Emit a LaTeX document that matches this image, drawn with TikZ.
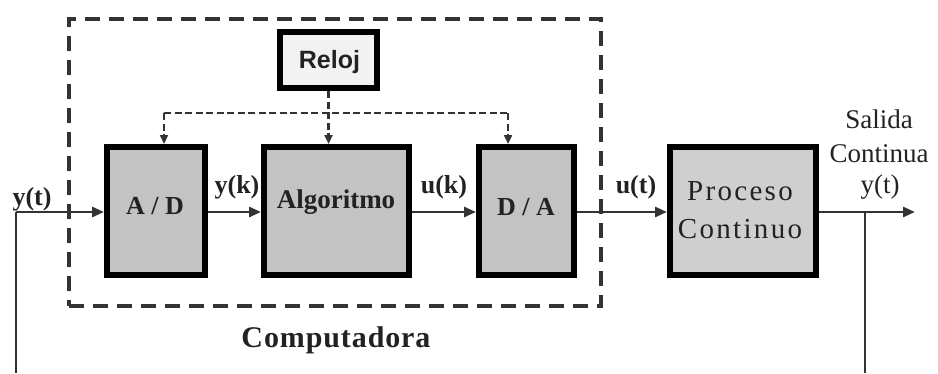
\documentclass[tikz,border=0pt]{standalone}
\usepackage{fontspec}
\setmainfont{Liberation Serif}
\newfontfamily\arialfont{Liberation Sans}
\usetikzlibrary{arrows.meta}
\definecolor{linegray}{HTML}{333333}
\definecolor{boxgray}{HTML}{C3C3C3}
\definecolor{procgray}{HTML}{CFCFCF}
\definecolor{clockfill}{HTML}{F2F2F2}
\definecolor{txt}{HTML}{222222}
\begin{document}
\begin{tikzpicture}[x=1pt,y=-1pt,
  blk/.style={draw=black, line width=6pt, fill=boxgray, inner sep=0pt},
  txtnode/.style={inner sep=0pt, anchor=base, text=txt},
  sig/.style={draw=linegray, line width=2.8pt, -{Triangle[length=12pt,width=10pt]}},
  clk/.style={draw=linegray, line width=2.5pt, dash pattern=on 7pt off 3.5pt},
  clkarrow/.style={clk, -{Triangle[length=9pt,width=8pt]}},
  thinline/.style={draw=linegray, line width=1.6pt}]
\useasboundingbox (0,0) rectangle (938,373);

% computer dashed frame
\node[draw=linegray, line width=4pt, dash pattern=on 15pt off 9pt,
      minimum width=532pt, minimum height=287pt, inner sep=0pt] (comp) at (335,162.5) {};

% blocks
\node[blk, minimum width=98pt, minimum height=128pt] (ad) at (156,211) {};
\node[blk, minimum width=145pt, minimum height=128pt] (algo) at (336.5,211) {};
\node[blk, minimum width=95pt, minimum height=128pt] (da) at (526.5,211) {};
\node[blk, fill=procgray, minimum width=146pt, minimum height=128pt] (pc) at (743,211) {};
\node[blk, fill=clockfill, minimum width=97pt, minimum height=56pt] (reloj) at (328.5,60) {};

% block texts
\node[txtnode] (adt) at (155,214) {\fontsize{26}{30}\selectfont\bfseries A / D};
\node[txtnode] (algot) at (336,208) {\fontsize{27}{30}\selectfont\bfseries Algoritmo};
\node[txtnode] (dat) at (526,215) {\fontsize{26}{30}\selectfont\bfseries D / A};
\node[txtnode] (pct1) at (740,200) {\fontsize{29}{32}\selectfont\addfontfeature{LetterSpace=8}Proceso};
\node[txtnode] (pct2) at (740,238) {\fontsize{29}{32}\selectfont\addfontfeature{LetterSpace=8}Continuo};
\node[txtnode] (relojt) at (329.5,68) {\arialfont\fontsize{25}{30}\selectfont\bfseries Reloj};
\node[txtnode] (compt) at (336,347) {\fontsize{30}{34}\selectfont\bfseries\addfontfeature{LetterSpace=3}Computadora};

% signal labels
\node[txtnode] (ytl) at (32,205) {\fontsize{26}{30}\selectfont\bfseries y(t)};
\node[txtnode] (ykl) at (237,193) {\fontsize{26}{30}\selectfont\bfseries y(k)};
\node[txtnode] (ukl) at (444,193) {\fontsize{26}{30}\selectfont\bfseries u(k)};
\node[txtnode] (utl) at (636,193) {\fontsize{26}{30}\selectfont\bfseries u(t)};
\node[txtnode] (sal1) at (879,128) {\fontsize{27}{30}\selectfont Salida};
\node[txtnode] (sal2) at (879,162) {\fontsize{27}{30}\selectfont Continua};
\node[txtnode] (sal3) at (880,193) {\fontsize{27}{30}\selectfont y(t)};

% coordinates
\coordinate (in) at (16,212);
\coordinate (inb) at (16,373);
\coordinate (out) at (915,212);
\coordinate (tap) at (865,212);
\coordinate (tapb) at (865,373);
\coordinate (busL) at (164,113);
\coordinate (busM) at (328.5,113);
\coordinate (busR) at (508,113);

% signal path
\draw[sig] (in) -- (ad.west |- in);
\draw[sig] (ad.east |- in) -- (algo.west |- in);
\draw[sig] (algo.east |- in) -- (da.west |- in);
\draw[sig] (da.east |- in) -- (pc.west |- in);
\draw[sig] (pc.east |- in) -- (out);
\draw[thinline] (in) -- (inb);
\draw[thinline] (tap) -- (tapb);

% clock lines
\draw[clkarrow] (reloj.south) -- (busM |- algo.north);
\draw[clk] (busL) -- (busR);
\draw[clkarrow] (busL) -- (busL |- ad.north);
\draw[clkarrow] (busR) -- (busR |- da.north);
\end{tikzpicture}
\end{document}
